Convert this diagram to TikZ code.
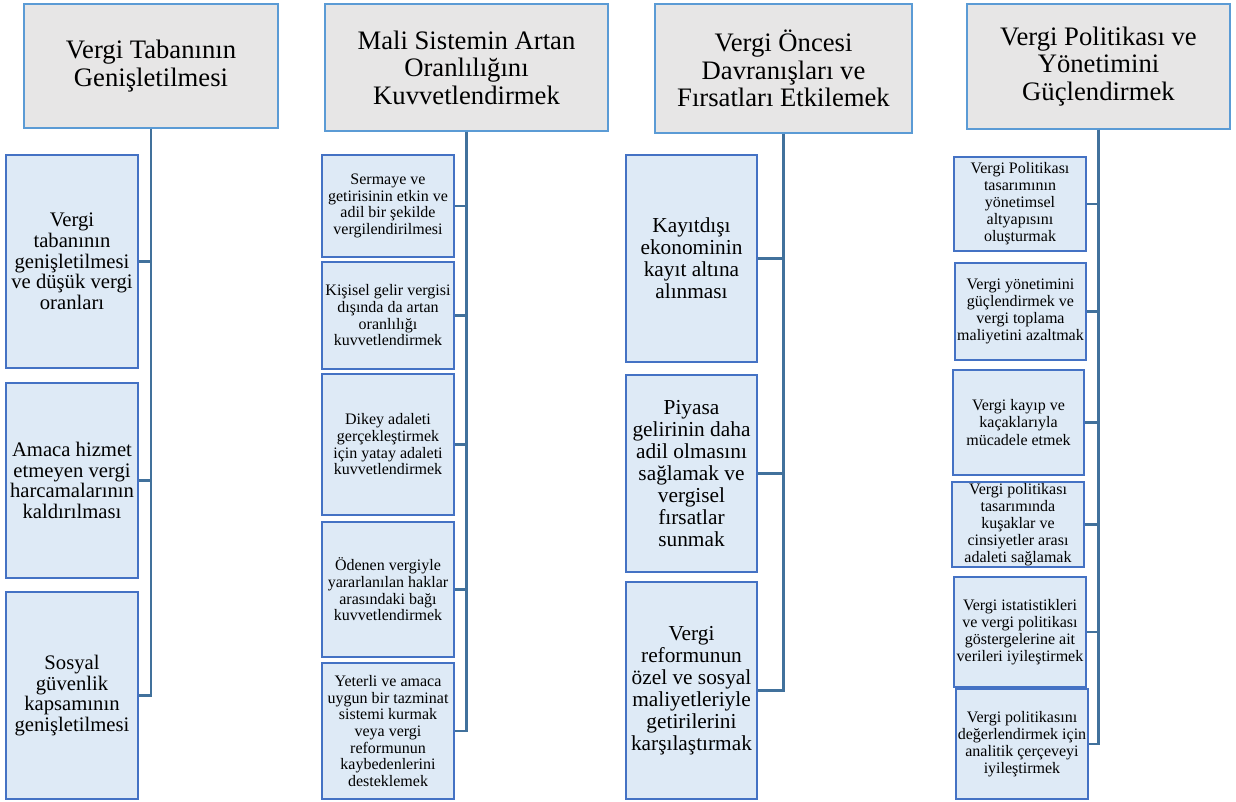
\documentclass[tikz,border=0pt]{standalone}
\usepackage{fontspec}
\setmainfont{Liberation Serif}
\definecolor{hdrfill}{HTML}{E7E6E6}
\definecolor{hdrline}{HTML}{5B9BD5}
\definecolor{kidfill}{HTML}{DEEAF6}
\definecolor{kidline}{HTML}{4472C4}
\definecolor{connline}{HTML}{41719C}
\newcommand\bx[7]{\node[#6, minimum width={(#4-#2)*0.75pt}, minimum height={(#5-#3)*0.75pt}] (#1) at ({(#2+#4)/2},{(#3+#5)/2}) {#7};}
\tikzset{
  hdr/.style={draw=hdrline, fill=hdrfill, line width=1.2pt, align=center, inner sep=1pt,
    font=\fontsize{20}{20.6}\selectfont},
  kid/.style={draw=kidline, fill=kidfill, line width=1.5pt, align=center, inner sep=1pt},
  kidA/.style={kid, font=\fontsize{15.5}{15.5}\selectfont},
  kidB/.style={kid, font=\fontsize{12}{12.5}\selectfont},
  kidC/.style={kid, font=\fontsize{16}{16.5}\selectfont},
  kidD/.style={kid, font=\fontsize{12}{12.8}\selectfont},
  conn/.style={draw=connline, line width=1.8pt}
}
\begin{document}
\begin{tikzpicture}[x=0.75pt,y=-0.75pt]
\useasboundingbox (0,0) rectangle (1236,801);
% headers
\bx{H1}{24}{4}{278}{128}{hdr}{Vergi Tabanının\\Genişletilmesi}
\bx{H2}{325}{4}{608}{131}{hdr}{Mali Sistemin Artan\\Oranlılığını\\Kuvvetlendirmek}
\bx{H3}{655}{4}{912}{133}{hdr}{Vergi Öncesi\\Davranışları ve\\Fırsatları Etkilemek}
\bx{H4}{967}{4}{1230}{129}{hdr}{Vergi Politikası ve\\Yönetimini\\Güçlendirmek}
% column 1
\bx{A1}{6}{155}{138}{368}{kidA}{Vergi\\tabanının\\genişletilmesi\\ve düşük vergi\\oranları}
\bx{A2}{6}{383}{138}{578}{kidA}{Amaca hizmet\\etmeyen vergi\\harcamalarının\\kaldırılması}
\bx{A3}{6}{592}{138}{799}{kidA}{Sosyal\\güvenlik\\kapsamının\\genişletilmesi}
% column 2
\bx{B1}{322}{155}{454}{257}{kidB}{Sermaye ve\\getirisinin etkin ve\\adil bir şekilde\\vergilendirilmesi}
\bx{B2}{322}{262}{454}{369}{kidB}{Kişisel gelir vergisi\\dışında da artan\\oranlılığı\\kuvvetlendirmek}
\bx{B3}{322}{374}{454}{515}{kidB}{Dikey adaleti\\gerçekleştirmek\\için yatay adaleti\\kuvvetlendirmek}
\bx{B4}{322}{522}{454}{657}{kidB}{Ödenen vergiyle\\yararlanılan haklar\\arasındaki bağı\\kuvvetlendirmek}
\bx{B5}{322}{663}{454}{799}{kidB}{Yeterli ve amaca\\uygun bir tazminat\\sistemi kurmak\\veya vergi\\reformunun\\kaybedenlerini\\desteklemek}
% column 3
\bx{C1}{626}{155}{757}{362}{kidC}{Kayıtdışı\\ekonominin\\kayıt altına\\alınması}
\bx{C2}{626}{375}{757}{572}{kidC}{Piyasa\\gelirinin daha\\adil olmasını\\sağlamak ve\\vergisel\\fırsatlar\\sunmak}
\bx{C3}{626}{582}{757}{799}{kidC}{Vergi\\reformunun\\özel ve sosyal\\maliyetleriyle\\getirilerini\\karşılaştırmak}
% column 4
\bx{D1}{954}{157}{1086}{251}{kidD}{Vergi Politikası\\tasarımının\\yönetimsel\\altyapısını\\oluşturmak}
\bx{D2}{955}{263}{1086}{360}{kidD}{Vergi yönetimini\\güçlendirmek ve\\vergi toplama\\maliyetini azaltmak}
\bx{D3}{953}{370}{1084}{475}{kidD}{Vergi kayıp ve\\kaçaklarıyla\\mücadele etmek}
\bx{D4}{952}{482}{1084}{567}{kidD}{Vergi politikası\\tasarımında\\kuşaklar ve\\cinsiyetler arası\\adaleti sağlamak}
\bx{D5}{954}{577}{1086}{687}{kidD}{Vergi istatistikleri\\ve vergi politikası\\göstergelerine ait\\verileri iyileştirmek}
\bx{D6}{956}{689}{1088}{799}{kidD}{Vergi politikasını\\değerlendirmek için\\analitik çerçeveyi\\iyileştirmek}
% connectors
\foreach \k in {A1,A2,A3} \draw[conn] (H1.south) |- (\k.east);
\foreach \k in {B1,B2,B3,B4,B5} \draw[conn] (H2.south) |- (\k.east);
\foreach \k in {C1,C2,C3} \draw[conn] (H3.south) |- (\k.east);
\foreach \k in {D1,D2,D3,D4,D5,D6} \draw[conn] (H4.south) |- (\k.east);
\end{tikzpicture}
\end{document}
